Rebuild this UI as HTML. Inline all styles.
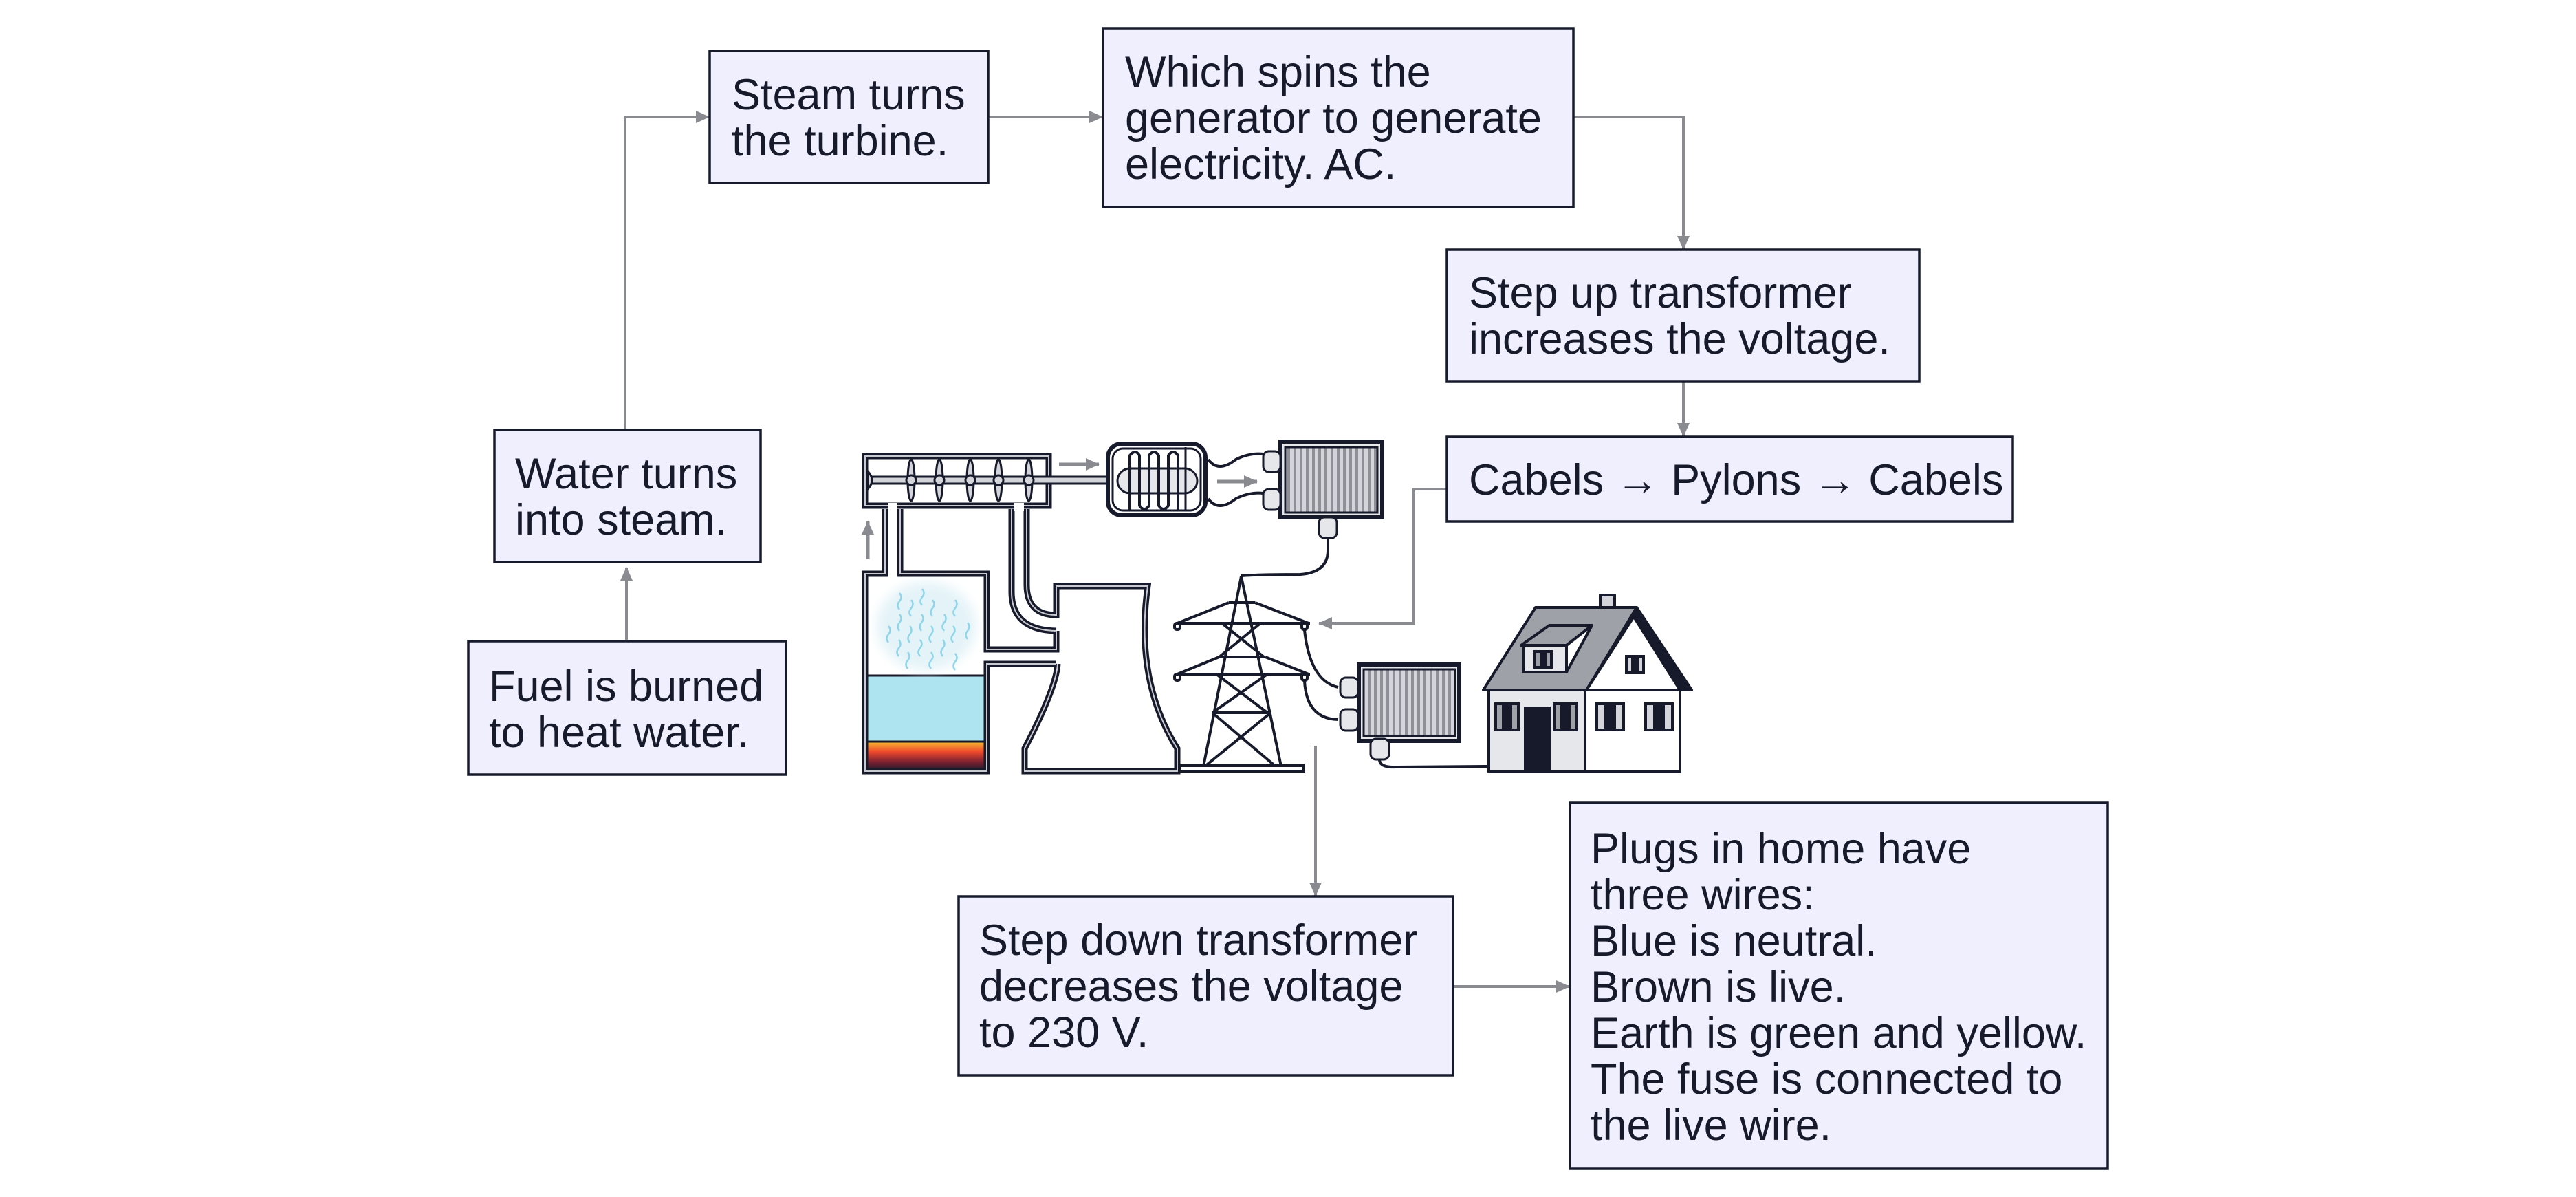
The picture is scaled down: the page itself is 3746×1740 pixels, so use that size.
<!DOCTYPE html>
<html><head><meta charset="utf-8"><style>
html,body{margin:0;padding:0;background:#fff;width:3746px;height:1740px;overflow:hidden}
svg{display:block}
text{font-family:"Liberation Sans",sans-serif;font-size:63px;fill:#161a2b}
</style></head><body>
<svg width="3746" height="1740" viewBox="0 0 3746 1740" xmlns="http://www.w3.org/2000/svg">
<defs>
<marker id="ar" markerWidth="20" markerHeight="18" refX="19" refY="9" orient="auto" markerUnits="userSpaceOnUse" viewBox="0 0 20 18"><path d="M0,0 L20,9 L0,18 z" fill="#8a8b91"/></marker>
<pattern id="stripe" width="9" height="10" patternUnits="userSpaceOnUse"><rect width="9" height="10" fill="#d4d5da"/><rect width="4" height="10" fill="#8f9097"/></pattern>
<linearGradient id="fire" x1="0" y1="0" x2="0" y2="1"><stop offset="0" stop-color="#f6c430"/><stop offset="0.35" stop-color="#f04a2c"/><stop offset="0.7" stop-color="#7a2030"/><stop offset="1" stop-color="#161a2b"/></linearGradient>
<filter id="blur"><feGaussianBlur stdDeviation="8"/></filter>
</defs>

<!-- connectors -->
<g fill="none" stroke="#8a8b91" stroke-width="4">
<path d="M909,625 V170 H1031" marker-end="url(#ar)"/>
<path d="M1437,170 H1603" marker-end="url(#ar)"/>
<path d="M2288,170 H2448 V362" marker-end="url(#ar)"/>
<path d="M2448,555 V634" marker-end="url(#ar)"/>
<path d="M2104,711 H2056 V906 H1918" marker-end="url(#ar)"/>
<path d="M911,932 V825" marker-end="url(#ar)"/>
<path d="M1913,1084 V1302" marker-end="url(#ar)"/>
<path d="M2113,1434 H2282" marker-end="url(#ar)"/>
</g>
<!-- small arrows in illustration -->
<g fill="none" stroke="#8a8b91" stroke-width="5">
<path d="M1262,813 V758" marker-end="url(#ar)"/>
<path d="M1540,675 H1598" marker-end="url(#ar)"/>
<path d="M1770,700 H1828" marker-end="url(#ar)"/>
</g>

<!-- boxes -->
<g fill="#efeffd" stroke="#161a2b" stroke-width="3.5">
<rect x="1032" y="74" width="405" height="192"/>
<rect x="1604" y="41" width="684" height="260"/>
<rect x="2104" y="363" width="687" height="192"/>
<rect x="2104" y="635" width="823" height="123"/>
<rect x="719" y="625" width="387" height="192"/>
<rect x="681" y="932" width="462" height="194"/>
<rect x="1394" y="1303" width="719" height="260"/>
<rect x="2283" y="1167" width="782" height="532"/>
</g>
<text x="1064" y="159">Steam turns</text><text x="1064" y="226">the turbine.</text>
<text x="1636" y="126">Which spins the</text><text x="1636" y="193">generator to generate</text><text x="1636" y="260">electricity. AC.</text>
<text x="2136" y="447">Step up transformer</text><text x="2136" y="514">increases the voltage.</text>
<text x="2136" y="719">Cabels → Pylons → Cabels</text>
<text x="749" y="710">Water turns</text><text x="749" y="777">into steam.</text>
<text x="711" y="1019">Fuel is burned</text><text x="711" y="1086">to heat water.</text>
<text x="1424" y="1388">Step down transformer</text><text x="1424" y="1455">decreases the voltage</text><text x="1424" y="1522">to 230 V.</text>
<text x="2313" y="1255">Plugs in home have</text><text x="2313" y="1322">three wires:</text><text x="2313" y="1389">Blue is neutral.</text><text x="2313" y="1456">Brown is live.</text><text x="2313" y="1523">Earth is green and yellow.</text><text x="2313" y="1590">The fuse is connected to</text><text x="2313" y="1657">the live wire.</text>

<!-- boiler -->
<rect x="1262" y="982" width="170" height="95" fill="#ade4f0"/>
<rect x="1262" y="1077" width="170" height="44" fill="url(#fire)"/>
<line x1="1262" y1="1078" x2="1432" y2="1078" stroke="#161a2b" stroke-width="3"/>
<line x1="1262" y1="982" x2="1432" y2="982" stroke="#161a2b" stroke-width="3"/>
<ellipse cx="1347" cy="910" rx="72" ry="64" fill="#e4f3f8" filter="url(#blur)"/>
<g fill="none" stroke="#8fd6ec" stroke-width="2.5">
<path d="M1308,862 q5,6 0,12 q-5,6 0,12"/><path d="M1325,872 q5,6 0,12 q-5,6 0,12"/><path d="M1341,856 q5,6 0,12 q-5,6 0,12"/><path d="M1356,872 q5,6 0,12 q-5,6 0,12"/><path d="M1389,872 q5,6 0,12 q-5,6 0,12"/>
<path d="M1292,910 q5,6 0,12 q-5,6 0,12"/><path d="M1308,893 q5,6 0,12 q-5,6 0,12"/><path d="M1323,910 q5,6 0,12 q-5,6 0,12"/><path d="M1340,893 q5,6 0,12 q-5,6 0,12"/><path d="M1354,910 q5,6 0,12 q-5,6 0,12"/><path d="M1373,893 q5,6 0,12 q-5,6 0,12"/><path d="M1386,910 q5,6 0,12 q-5,6 0,12"/><path d="M1407,905 q5,6 0,12 q-5,6 0,12"/>
<path d="M1307,930 q5,6 0,12 q-5,6 0,12"/><path d="M1338,930 q5,6 0,12 q-5,6 0,12"/><path d="M1371,930 q5,6 0,12 q-5,6 0,12"/><path d="M1320,948 q5,6 0,12 q-5,6 0,12"/><path d="M1354,948 q5,6 0,12 q-5,6 0,12"/><path d="M1389,950 q5,6 0,12 q-5,6 0,12"/>
</g>
<g fill="none" stroke="#161a2b" stroke-width="9" stroke-linejoin="miter">
<path d="M1287,740 V834 H1258 V1121 H1435 V965 H1536"/>
<path d="M1309,740 V834 H1435 V944 H1536 V917"/>
<path d="M1471,740 V860 Q1471,916 1536,917"/>
<path d="M1493,740 V850 Q1493,894 1536,894 V852 H1669 Q1650,990 1712,1088 V1121 H1490 V1088 Q1536,1000 1538,965"/>
<rect x="1258" y="663" width="267" height="72"/>
</g>
<g fill="none" stroke="#c9cad0" stroke-width="2">
<path d="M1287,740 V834 H1258 V1121 H1435 V965 H1536"/>
<path d="M1309,740 V834 H1435 V944 H1536 V917"/>
<path d="M1471,740 V860 Q1471,916 1536,917"/>
<path d="M1493,740 V850 Q1493,894 1536,894 V852 H1669 Q1650,990 1712,1088 V1121 H1490 V1088 Q1536,1000 1538,965"/>
<rect x="1258" y="663" width="267" height="72"/>
</g>
<rect x="1291" y="731" width="14" height="12" fill="#fff"/>
<rect x="1475" y="731" width="14" height="12" fill="#fff"/>
<!-- turbine shaft and blades -->
<rect x="1266" y="693" width="350" height="10" fill="#d4d5da" stroke="#161a2b" stroke-width="3"/>
<path d="M1262,685 q12,13 0,26 z" fill="#d4d5da" stroke="#161a2b" stroke-width="3"/>
<g fill="#d4d5da" stroke="#161a2b" stroke-width="3">
<ellipse cx="1325" cy="698" rx="5" ry="30"/><ellipse cx="1366" cy="698" rx="5" ry="30"/><ellipse cx="1411" cy="698" rx="5" ry="30"/><ellipse cx="1452" cy="698" rx="5" ry="30"/><ellipse cx="1496" cy="698" rx="5" ry="30"/>
<circle cx="1325" cy="698" r="7"/><circle cx="1366" cy="698" r="7"/><circle cx="1411" cy="698" r="7"/><circle cx="1452" cy="698" r="7"/><circle cx="1496" cy="698" r="7"/>
</g>
<!-- condenser -->
<rect x="1611" y="645" width="142" height="104" rx="20" fill="#fff" stroke="#161a2b" stroke-width="6"/>
<rect x="1618" y="652" width="128" height="90" rx="15" fill="none" stroke="#161a2b" stroke-width="3"/>
<rect x="1625" y="681" width="116" height="36" rx="18" fill="#e6e7ea" stroke="#161a2b" stroke-width="3"/>
<path d="M1643,742 V662 q8,-10 14,0 V735 q7,10 14,0 V662 q7,-10 14,0 V735 q7,10 14,0 V662 q7,-10 14,0 V742" fill="none" stroke="#161a2b" stroke-width="4"/>
<path d="M1724,650 V742" stroke="#161a2b" stroke-width="3"/>
<!-- generator wires -->
<g fill="none" stroke="#161a2b" stroke-width="4">
<path d="M1757,668 q15,20 40,0 q20,-10 40,-8"/>
<path d="M1757,725 q15,20 40,0 q20,-10 40,-8"/>
<path d="M1931,782 V800 q0,32 -40,35 q-60,0 -86,2"/>
</g>
<!-- transformer 1 -->
<rect x="1862" y="642" width="148" height="110" fill="#e6e7ea" stroke="#161a2b" stroke-width="6"/>
<rect x="1869" y="650" width="134" height="95" fill="url(#stripe)" stroke="#161a2b" stroke-width="3"/>
<g fill="#e6e7ea" stroke="#161a2b" stroke-width="3">
<rect x="1837" y="656" width="25" height="30" rx="8"/><rect x="1837" y="711" width="25" height="30" rx="8"/>
<rect x="1918" y="752" width="26" height="30" rx="8"/>
</g>
<!-- pylon -->
<g fill="none" stroke="#161a2b" stroke-width="4">
<path d="M1805,838 L1750,1114 M1805,838 L1863,1114"/>
<path d="M1787,876 H1825 M1710,906 H1905 M1787,876 L1712,906 M1825,876 L1903,906"/>
<path d="M1773,955 H1840 M1710,980 H1905 M1773,955 L1712,980 M1840,955 L1903,980"/>
<path d="M1777,906 L1838,955 M1833,906 L1773,955"/>
<path d="M1769,980 L1843,1036 M1843,980 L1763,1036 M1763,1036 H1848 M1763,1036 L1855,1114 M1848,1036 L1752,1114"/>
<rect x="1716" y="1113" width="180" height="8" fill="#fff"/>
</g>
<g fill="#fff" stroke="#161a2b" stroke-width="4">
<rect x="1708" y="906" width="8" height="9" rx="3"/><rect x="1893" y="906" width="8" height="9" rx="3"/>
<rect x="1708" y="980" width="8" height="9" rx="3"/><rect x="1893" y="980" width="8" height="9" rx="3"/>
</g>
<g fill="none" stroke="#161a2b" stroke-width="4">
<path d="M1897,916 Q1905,990 1946,999"/>
<path d="M1897,990 Q1900,1045 1946,1046"/>
<path d="M2006,1104 Q2006,1116 2030,1115 L2166,1114"/>
</g>
<!-- transformer 2 -->
<rect x="1976" y="966" width="146" height="111" fill="#e6e7ea" stroke="#161a2b" stroke-width="6"/>
<rect x="1983" y="973" width="133" height="97" fill="url(#stripe)" stroke="#161a2b" stroke-width="3"/>
<g fill="#e6e7ea" stroke="#161a2b" stroke-width="3">
<rect x="1949" y="985" width="26" height="29" rx="8"/><rect x="1949" y="1031" width="26" height="31" rx="8"/>
<rect x="1993" y="1074" width="27" height="30" rx="8"/>
</g>
<!-- house -->
<g stroke="#161a2b" stroke-width="4" stroke-linejoin="round">
<rect x="2327" y="865" width="21" height="38" fill="#d4d5da"/>
<rect x="2165" y="1003" width="140" height="119" fill="#e6e7ea"/>
<rect x="2305" y="1003" width="138" height="119" fill="#fff"/>
<polygon points="2157,1003 2233,883 2380,883 2307,1003" fill="#9fa1a8"/>
<polygon points="2307,1003 2380,890 2443,1003" fill="#fff"/>
<polygon points="2380,883 2460,1003 2443,1003 2378,900" fill="#161a2b"/>
<polygon points="2212,938 2253,909 2315,909 2278,938" fill="#9fa1a8"/>
<polygon points="2278,938 2315,909 2278,977" fill="#fff"/>
<rect x="2215" y="938" width="63" height="39" fill="#e6e7ea"/>
</g>
<g fill="#161a2b">
<rect x="2230" y="945" width="28" height="27"/><rect x="2363" y="952" width="29" height="28"/>
<rect x="2173" y="1021" width="37" height="42"/><rect x="2258" y="1021" width="37" height="42"/>
<rect x="2320" y="1021" width="43" height="42"/><rect x="2391" y="1021" width="43" height="42"/>
<rect x="2216" y="1027" width="39" height="96"/>
</g>
<g fill="#9fa1a8"><rect x="2234" y="949" width="5" height="19"/><rect x="2249" y="949" width="5" height="19"/>
<rect x="2177" y="1025" width="7" height="34"/><rect x="2199" y="1025" width="7" height="34"/><rect x="2262" y="1025" width="7" height="34"/><rect x="2284" y="1025" width="7" height="34"/></g>
<g fill="#d4d5da"><rect x="2367" y="956" width="5" height="20"/><rect x="2383" y="956" width="5" height="20"/>
<rect x="2324" y="1025" width="9" height="34"/><rect x="2350" y="1025" width="9" height="34"/><rect x="2395" y="1025" width="9" height="34"/><rect x="2421" y="1025" width="9" height="34"/></g>
</svg>
</body></html>
